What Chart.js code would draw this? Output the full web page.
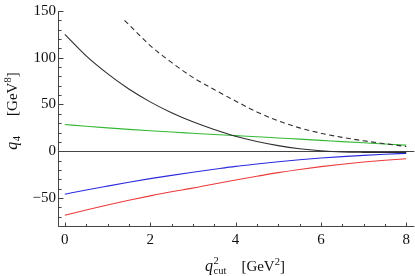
<!DOCTYPE html>
<html>
<head>
<meta charset="utf-8">
<script src="https://cdn.jsdelivr.net/npm/chart.js@4"></script>
<style>
  html, body { margin: 0; padding: 0; background: #fff; }
  #wrap { width: 415px; height: 276px; }
</style>
</head>
<body>
<div id="wrap"><canvas id="chart"></canvas></div>
<script>
// q4 vs q2cut, valores leidos a ojo del grafico original
const xs = [0, 0.5, 1, 1.5, 2, 2.5, 3, 3.5, 4, 4.5, 5, 5.5, 6, 6.5, 7, 7.5, 8];
const solidBlack = [125, 102, 83, 66.5, 52.8, 41.2, 31.5, 23.2, 16, 10.4, 6, 2.7, 0.5, -0.8, -1.2, -1.3, -1.2];
const dashedXs = [1.4, 1.5, 2, 2.5, 3, 3.5, 4, 4.5, 5, 5.5, 6, 6.5, 7, 7.5, 8];
const dashedBlack = [140, 135.5, 113, 95, 79, 66, 53.7, 42, 32.5, 25, 19.3, 14.8, 11.2, 8, 5];
const green = [28.5, 26.7, 25, 23.4, 21.9, 20.5, 19.2, 17.9, 16.7, 15.5, 14.2, 12.9, 11.6, 10.3, 9, 7.7, 6.5];
const blue = [-46, -41.5, -37.3, -33.2, -29.3, -25.8, -22.5, -19.3, -16.2, -13.6, -11.2, -9.1, -7.3, -5.8, -4.5, -3.3, -2.3];
const red = [-68.5, -62.8, -57.5, -52.5, -47.8, -43.4, -39.5, -35, -30.8, -26.8, -22.9, -19.5, -16.5, -13.9, -11.6, -9.7, -8];
const xTicks = [0, 2, 4, 6, 8];
const yTicks = [-50, 0, 50, 100, 150];

const pts = (xv, yv) => xv.map((x, i) => ({ x: x, y: yv[i] }));
const serie = (data, color, dash) => ({
  data: data,
  borderColor: color,
  borderWidth: 1.1,
  borderDash: dash || [],
  pointRadius: 0,
  cubicInterpolationMode: 'monotone',
  fill: false
});

const SERIF = '"Liberation Serif", "DejaVu Serif", serif';

// dibuja trozos de texto con sub/superindices
function runs(ctx, parts, x, y, align) {
  let w = 0;
  parts.forEach(p => { ctx.font = p.font; p.w = ctx.measureText(p.t).width; if (!p.stack) w += p.w + (p.gap || 0); });
  let cx = align === 'center' ? x - w / 2 : x;
  parts.forEach(p => {
    ctx.font = p.font;
    if (p.stack) { ctx.fillText(p.t, cx, y + (p.dy || 0)); return; }
    ctx.fillText(p.t, cx, y + (p.dy || 0));
    cx += p.w + (p.gap || 0);
  });
}

const framePlugin = {
  id: 'frame',
  beforeDatasetsDraw(chart) {
    const { ctx, chartArea: a, scales: { y } } = chart;
    ctx.save();
    ctx.strokeStyle = '#444';
    ctx.lineWidth = 1;
    const y0 = Math.round(y.getPixelForValue(0)) + 0.5;
    ctx.beginPath();
    ctx.moveTo(a.left, y0);
    ctx.lineTo(a.right, y0);
    ctx.stroke();
    ctx.restore();
  },
  afterDraw(chart) {
    const { ctx, chartArea: a, scales: { x, y } } = chart;
    ctx.save();
    ctx.strokeStyle = '#444';
    ctx.lineWidth = 1;
    const left = Math.round(a.left) + 0.5;
    const bottom = Math.round(a.bottom) + 0.5;
    ctx.beginPath();
    ctx.moveTo(left, a.top);
    ctx.lineTo(left, bottom);
    ctx.lineTo(a.right, bottom);
    // marcas del eje x, hacia dentro
    for (let v = 0; v <= 8.001; v += 0.5) {
      const px = Math.round(x.getPixelForValue(v)) + 0.5;
      const len = Math.abs(v % 2) < 1e-6 ? 4 : 2.5;
      ctx.moveTo(px, bottom);
      ctx.lineTo(px, bottom - len);
    }
    // marcas del eje y
    for (let v = -80; v <= 150; v += 10) {
      const py = Math.round(y.getPixelForValue(v)) + 0.5;
      const len = v % 50 === 0 ? 5 : 3;
      ctx.moveTo(left, py);
      ctx.lineTo(left + len, py);
    }
    ctx.stroke();

    ctx.fillStyle = '#111';
    ctx.textBaseline = 'alphabetic';
    ctx.textAlign = 'left';
    const big = '15px ' + SERIF, it = 'italic 16px ' + SERIF, small = '10.5px ' + SERIF;
    // titulo eje x: q^2_cut  [GeV^2]
    runs(ctx, [
      { t: 'q', font: it, gap: 0.5 },
      { t: '2', font: small, dy: -7, stack: true },
      { t: 'cut', font: small, dy: 3, gap: 15 },
      { t: '[GeV', font: big },
      { t: '2', font: small, dy: -6 },
      { t: ']', font: big }
    ], 245, 271, 'center');
    // titulo eje y: q_4  [GeV^8]
    ctx.translate(17, 111);
    ctx.rotate(-Math.PI / 2);
    runs(ctx, [
      { t: 'q', font: it, gap: 0.5 },
      { t: '4', font: small, dy: 3, gap: 20 },
      { t: '[GeV', font: big },
      { t: '8', font: small, dy: -6 },
      { t: ']', font: big }
    ], 0, 0, 'center');
    ctx.restore();
  }
};

new Chart(document.getElementById('chart'), {
  type: 'line',
  data: {
    datasets: [
      serie(pts(xs, solidBlack), '#2e2e2e'),
      serie(pts(dashedXs, dashedBlack), '#2e2e2e', [5, 3.5]),
      serie(pts(xs, green), '#35b935'),
      serie(pts(xs, blue), '#2b2be0'),
      serie(pts(xs, red), '#ec3b3b')
    ]
  },
  options: {
    responsive: true,
    maintainAspectRatio: false,
    animation: false,
    devicePixelRatio: 1,
    layout: { padding: { top: 9, left: 0, right: 0, bottom: 0 } },
    plugins: { legend: { display: false }, tooltip: { enabled: false } },
    scales: {
      x: {
        type: 'linear',
        min: -0.16,
        max: 8.19,
        afterBuildTicks: s => { s.ticks = xTicks.map(v => ({ value: v })); },
        afterFit: s => { s.height = 50; },
        grid: { display: false, drawTicks: false },
        border: { display: false },
        ticks: { padding: 5, color: '#111', font: { family: SERIF, size: 15 }, maxRotation: 0 }
      },
      y: {
        type: 'linear',
        min: -80,
        max: 150,
        afterBuildTicks: s => { s.ticks = yTicks.map(v => ({ value: v })); },
        afterFit: s => { s.width = 58; },
        grid: { display: false, drawTicks: false },
        border: { display: false },
        ticks: {
          padding: 2,
          color: '#111',
          font: { family: SERIF, size: 15 },
          callback: v => (v < 0 ? '\u2212' + Math.abs(v) : String(v))
        }
      }
    }
  },
  plugins: [framePlugin]
});
</script>
</body>
</html>
